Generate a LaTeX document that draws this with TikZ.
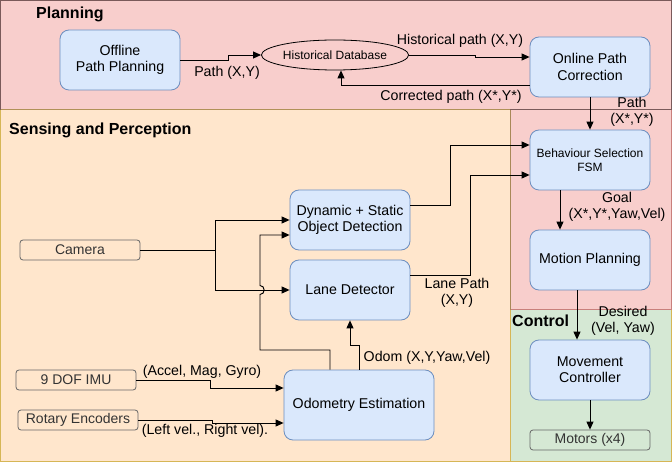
\documentclass[tikz,border=0pt]{standalone}
\usepackage{fontspec}
\setmainfont{Liberation Sans}
\usetikzlibrary{arrows.meta,shapes.geometric}
\definecolor{planfill}{HTML}{F8CECC}
\definecolor{planline}{HTML}{7A5A5A}
\definecolor{redline}{HTML}{C9807C}
\definecolor{sensfill}{HTML}{FFE6CC}
\definecolor{sensline}{HTML}{D6B656}
\definecolor{ctrlfill}{HTML}{D5E8D4}
\definecolor{bluefill}{HTML}{DAE8FC}
\definecolor{blueline}{HTML}{6C8EBF}
\definecolor{grayline}{HTML}{666666}
\definecolor{graytext}{HTML}{333333}
\tikzset{
  blk/.style={draw=blueline, fill=bluefill, rounded corners=9pt, minimum width=120pt, minimum height=60pt, align=center, font=\fontsize{14.2}{16.2}\selectfont, line width=0.8pt, inner sep=1pt},
  sensor/.style={draw=grayline, rounded corners=3pt, minimum width=120pt, minimum height=20pt, font=\fontsize{14}{16}\selectfont, text=graytext, line width=0.8pt, inner sep=1pt},
  lbl/.style={font=\fontsize{14.2}{16}\selectfont, align=center, inner sep=0pt},
  ttl/.style={font=\bfseries\fontsize{16}{18}\selectfont, anchor=west, inner sep=0pt},
  arr/.style={-{Triangle[length=8pt,width=7pt]}, line width=0.95pt},
  ln/.style={line width=0.95pt}
}
\begin{document}
\begin{tikzpicture}[x=1pt,y=-1pt]
\useasboundingbox (0,0) rectangle (672,462);
% regions
\fill[sensfill] (0,110) rectangle (510,461.5);
\draw[sensline, line width=1pt] (0.5,110) rectangle (510,461.5);
\fill[ctrlfill] (510,310) rectangle (671.5,461.5);
\draw[sensline, line width=1pt] (510,310) rectangle (671.5,461.5);
\fill[planfill] (510,110) rectangle (671.5,310);
\draw[redline, line width=1pt] (510,110) rectangle (671.5,310);
\fill[planfill] (0,0) rectangle (671.5,110);
\draw[planline, line width=1pt] (0.5,0.5) rectangle (671.5,110);
\draw[line width=1pt, color=sensline!60!planline] (0.5,110) -- (510,110);
\draw[line width=1pt, color=sensline!50!planline] (510,110) -- (510,310);
% titles
\node[ttl] (tplan) at (36,14) {Planning};
\node[ttl] (tsens) at (9,130) {Sensing and Perception};
\node[ttl] (tctrl) at (512,321) {Control};
% nodes
\node[blk] (off) at (120,60) {Offline\\Path Planning};
\node[draw, ellipse, minimum width=120pt, minimum height=30pt, line width=0.8pt, inner sep=0pt, font=\fontsize{12}{14}\selectfont] (hdb) at (335,55) {Historical Database};
\node[blk] (onl) at (590,67) {Online Path\\Correction};
\node[blk, font=\fontsize{12}{14.5}\selectfont] (beh) at (590,160) {Behaviour Selection\\FSM};
\node[blk] (mot) at (590,260) {Motion Planning};
\node[blk] (mov) at (590,370) {Movement\\Controller};
\node[sensor] (motors) at (590,440) {Motors (x4)};
\node[sensor] (cam) at (80,250) {Camera};
\node[sensor] (imu) at (76,380) {9 DOF IMU};
\node[sensor] (enc) at (78,420) {Rotary Encoders};
\node[blk] (dyn) at (350,220) {Dynamic + Static\\Object Detection};
\node[blk] (lane) at (350,290) {Lane Detector};
\node[blk, minimum width=150pt, minimum height=70pt] (odo) at (359,405) {Odometry Estimation};
% connectors
\draw[arr] (off.east) -- (228,60) |- (hdb.west);
\draw[arr] (hdb.east) -- (475,55) |- ([yshift=10pt]onl.west);
\draw[arr] ([yshift=-18pt]onl.west) -| ([xshift=6pt]hdb.south);
\draw[arr] (onl.south) -- (beh.north);
\draw[arr] ([yshift=15pt]dyn.east) -- (450,205) |- ([yshift=15pt]beh.west);
\draw[arr] ([yshift=15pt]lane.east) -- (470,275) |- ([yshift=-15pt]beh.west);
\draw[arr] ([xshift=-30pt]beh.south) -- ([xshift=-30pt]mot.north);
\draw[arr] ([xshift=-13pt]mot.south) -- ([xshift=-13pt]mov.north);
\draw[arr] (mov.south) -- (motors.north);
\draw[ln] (cam.east) -- (215,250);
\draw[arr] (215,250) |- (dyn.west);
\draw[arr] (215,250) |- (lane.west);
\draw[arr] ([xshift=-29pt]odo.north) -- (330,350) -- (260,350) -- (260,294.5) .. controls (265.5,294.5) and (265.5,285.5) .. (260,285.5) |- ([yshift=-15pt]dyn.west);
\draw[arr] (odo.north) -- (359,345) -| (lane.south);
\draw[arr] (imu.east) -- (210,380) |- ([yshift=17pt]odo.west);
\draw[arr] (enc.east) -- (212,420) |- ([yshift=-18pt]odo.west);
% labels
\node[lbl] (l1) at (227,73) {Path (X,Y)};
\node[lbl] (l2) at (460,41) {Historical path (X,Y)};
\node[lbl] (l3) at (451,97) {Corrected path (X*,Y*)};
\node[lbl] (l4) at (632,112) {Path\\(X*,Y*)};
\node[lbl] (l5) at (617,207) {Goal\\(X*,Y*,Yaw,Vel)};
\node[lbl] (l6) at (623,321) {Desired\\(Vel, Yaw)};
\node[lbl] (l7) at (457,293) {Lane Path\\(X,Y)};
\node[lbl] (l8) at (427,358) {Odom (X,Y,Yaw,Vel)};
\node[lbl] (l9) at (202,372) {(Accel, Mag, Gyro)};
\node[lbl] (l10) at (205,431) {(Left vel., Right vel).};
\end{tikzpicture}
\end{document}
